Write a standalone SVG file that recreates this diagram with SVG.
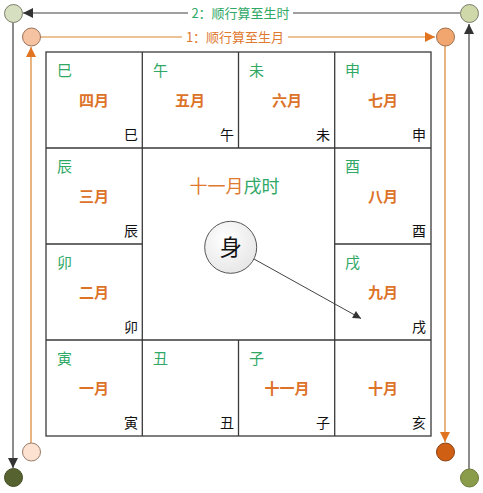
<svg xmlns="http://www.w3.org/2000/svg" width="483" height="493" viewBox="0 0 483 493">
<style>
text{font-family:"Noto Sans CJK SC","Noto Sans",sans-serif}
.grid{stroke:#3a3a3a;stroke-width:1.3;fill:none}
.g{fill:#2fa866;font-size:15px}
.m{fill:#dd7328;font-size:15px;font-weight:bold;text-anchor:middle}
.k{fill:#111;font-size:14px;text-anchor:end}
.l2{stroke:#404040;stroke-width:1.2;fill:none}
.l1{stroke:#d8832e;stroke-width:1.2;fill:none}
.cir{stroke-width:1}
</style>
<defs>
<marker id="ag" viewBox="0 0 10 10" refX="10" refY="5" markerWidth="12" markerHeight="10" markerUnits="userSpaceOnUse" orient="auto"><path d="M0,0L10,5L0,10z" fill="#333"/></marker>
<marker id="ao" viewBox="0 0 10 10" refX="10" refY="5" markerWidth="12" markerHeight="10" markerUnits="userSpaceOnUse" orient="auto"><path d="M0,0L10,5L0,10z" fill="#e07420"/></marker>
<marker id="as" viewBox="0 0 10 10" refX="10" refY="5" markerWidth="10" markerHeight="8" markerUnits="userSpaceOnUse" orient="auto"><path d="M0,0L10,5L0,10z" fill="#333"/></marker>
<radialGradient id="gb" cx="0.4" cy="0.35" r="0.7"><stop offset="0" stop-color="#ffffff"/><stop offset="1" stop-color="#e6e6e6"/></radialGradient>
</defs>
<rect width="483" height="493" fill="#fff"/>
<g id="grid">
<rect class="grid" x="46" y="52" width="385" height="384"/>
<path class="grid" d="M142.3,52V436M334.7,52V436M238.5,52V148M238.5,340V436M46,148H431M46,340H431M46,244H142.3M334.7,244H431"/>
</g>
<g id="cell-si"><text class="g" x="57" y="76">巳</text><text class="m" x="94" y="106">四月</text><text class="k" x="138" y="140">巳</text></g>
<g id="cell-wu"><text class="g" x="153" y="76">午</text><text class="m" x="190" y="106">五月</text><text class="k" x="234" y="140">午</text></g>
<g id="cell-wei"><text class="g" x="249" y="76">未</text><text class="m" x="287" y="106">六月</text><text class="k" x="330" y="140">未</text></g>
<g id="cell-shen"><text class="g" x="345" y="76">申</text><text class="m" x="383" y="106">七月</text><text class="k" x="426" y="140">申</text></g>
<g id="cell-chen"><text class="g" x="57" y="172">辰</text><text class="m" x="94" y="202">三月</text><text class="k" x="138" y="236">辰</text></g>
<g id="cell-you"><text class="g" x="345" y="172">酉</text><text class="m" x="383" y="202">八月</text><text class="k" x="426" y="236">酉</text></g>
<g id="cell-mao"><text class="g" x="57" y="268">卯</text><text class="m" x="94" y="298">二月</text><text class="k" x="138" y="332">卯</text></g>
<g id="cell-xu"><text class="g" x="345" y="268">戌</text><text class="m" x="383" y="298">九月</text><text class="k" x="426" y="332">戌</text></g>
<g id="cell-yin"><text class="g" x="57" y="364">寅</text><text class="m" x="94" y="394">一月</text><text class="k" x="138" y="428">寅</text></g>
<g id="cell-chou"><text class="g" x="153" y="364">丑</text><text class="k" x="234" y="428">丑</text></g>
<g id="cell-zi"><text class="g" x="249" y="364">子</text><text class="m" x="287" y="394">十一月</text><text class="k" x="330" y="428">子</text></g>
<g id="cell-hai"><text class="m" x="383" y="394">十月</text><text class="k" x="426" y="428">亥</text></g>
<g id="center-title"><text x="234.5" y="193" font-size="18" text-anchor="middle"><tspan fill="#e07a30">十一月</tspan><tspan fill="#2fa866">戌时</tspan></text></g>
<g id="connectors">
<path class="l2" d="M469,469V24" marker-end="url(#ag)"/>
<path class="l2" d="M460,13H293"/>
<path class="l2" d="M188,13H23" marker-end="url(#ag)"/>
<path class="l2" d="M13,22.5V468" marker-end="url(#ag)"/>
<path class="l1" d="M31,443V47" marker-end="url(#ao)"/>
<path class="l1" d="M40.5,37H182"/>
<path class="l1" d="M288,37H435" marker-end="url(#ao)"/>
<path class="l1" d="M445,46V442" marker-end="url(#ao)"/>
<path d="M254,259L361,318.5" stroke="#444" stroke-width="1" fill="none" marker-end="url(#as)"/>
</g>
<g id="label2"><text x="240.5" y="17.5" font-size="13" fill="#2fa866" text-anchor="middle">2：顺行算至生时</text></g>
<g id="label1"><text x="235" y="41.5" font-size="13" fill="#e07a30" text-anchor="middle">1：顺行算至生月</text></g>
<g id="c-tl"><circle class="cir" cx="13.5" cy="13.5" r="9" fill="#d6dfbf" stroke="#7b7e6a"/></g>
<g id="c-tr"><circle class="cir" cx="469.5" cy="13.5" r="9" fill="#cfd8a9" stroke="#7b7e6a"/></g>
<g id="c-bl"><circle class="cir" cx="13.5" cy="477.5" r="9" fill="#566330" stroke="#3f4a20"/></g>
<g id="c-br"><circle class="cir" cx="469.5" cy="478" r="9" fill="#8a9c4a" stroke="#6a7a38"/></g>
<g id="o-tl"><circle class="cir" cx="31.5" cy="37" r="9" fill="#f6c3a2" stroke="#9a7058"/></g>
<g id="o-tr"><circle class="cir" cx="445.5" cy="37" r="9" fill="#f2a66f" stroke="#a0704a"/></g>
<g id="o-bl"><circle class="cir" cx="31.5" cy="452" r="9" fill="#fde2d2" stroke="#9a7a68"/></g>
<g id="o-br"><circle class="cir" cx="445.5" cy="452" r="9" fill="#cf5f12" stroke="#8a4010"/></g>
<g id="shen-node"><circle cx="230.7" cy="247.3" r="26" fill="url(#gb)" stroke="#555" stroke-width="1"/><text x="230.7" y="255" font-size="22" fill="#111" text-anchor="middle">身</text></g>
</svg>
